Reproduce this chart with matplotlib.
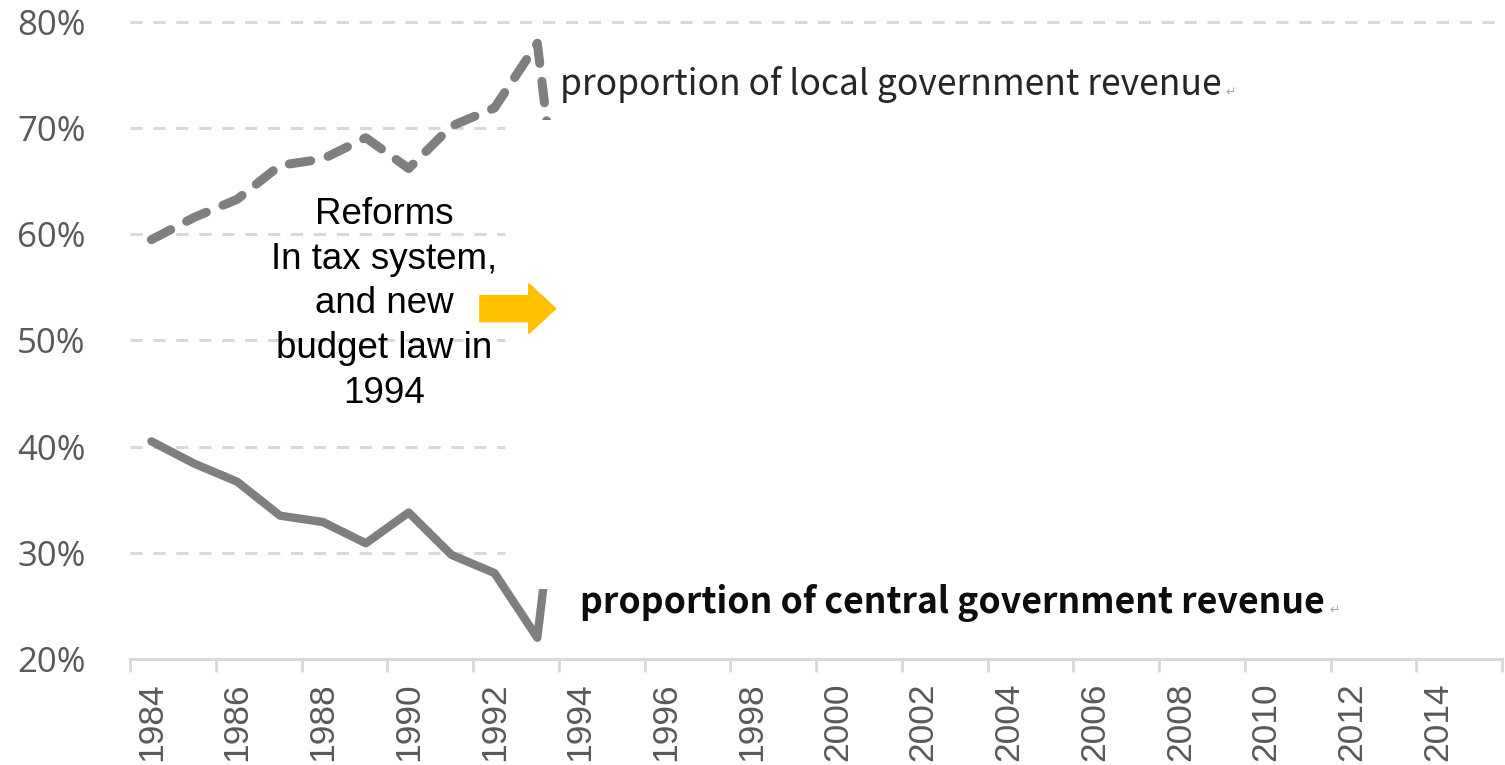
import matplotlib
matplotlib.use("Agg")
import matplotlib.pyplot as plt
from matplotlib.patches import Rectangle, FancyArrow

# share of total fiscal revenue, %
years = list(range(1984, 1995))
local_share = [59.5, 61.6, 63.3, 66.5, 67.1, 69.1, 66.2, 70.2, 71.9, 78.0, 44.3]
central_share = [40.5, 38.4, 36.7, 33.5, 32.9, 30.9, 33.8, 29.8, 28.1, 22.0, 55.7]

tick_years = list(range(1984, 2015, 2))
y_ticks = [20, 30, 40, 50, 60, 70, 80]

GRAY = "#7F7F7F"
GRID = "#D9D9D9"
LABEL = "#595959"

W, H = 1505, 765
fig = plt.figure(figsize=(W / 100, H / 100), dpi=100)
ax = fig.add_axes([130 / W, 106 / H, (1502 - 130) / W, 637 / H])

ax.set_xlim(1983.5, 2015.5)
ax.set_ylim(20, 80)

# dashed guide lines, the upper one runs the full width
for y in y_ticks[1:-1]:
    ax.hlines(y, 1983.5, 1992.25, color=GRID, lw=2.2, linestyle=(0, (4, 3.5)), zorder=1)
ax.hlines(80, 1983.5, 2015.5, color=GRID, lw=2.2, linestyle=(0, (4, 3.5)), zorder=1,
          clip_on=False)

ax.plot(years, local_share, color=GRAY, lw=6.5, linestyle=(0, (2.4, 2.0)),
        dash_capstyle="round", zorder=3)
ax.plot(years, central_share, color=GRAY, lw=6, solid_joinstyle="round",
        solid_capstyle="round", zorder=3)

# blank panel after the reform year
ax.add_patch(Rectangle((1993.05, 26.6), 30, 44.2, facecolor="white",
                       edgecolor="none", zorder=4))

ax.add_patch(FancyArrow(1991.66, 53.0, 1.77, 0, width=2.45, head_width=4.7,
                        head_length=0.63, length_includes_head=True,
                        color="#FFC000", zorder=5))

ax.text(1989.43, 53.45, "Reforms\nIn tax system,\nand new\nbudget law in\n1994",
        ha="center", va="center", fontsize=26.5, family="Liberation Sans",
        color="black", linespacing=1.36, zorder=5)

t_local = ax.text(1993.53, 74.1, "proportion of local government revenue",
                  ha="left", va="center", fontsize=25.5, family="Noto Sans CJK SC",
                  fontweight="light", color="#262626", zorder=5)
t_central = ax.text(1994.0, 25.3, "proportion of central government revenue",
                    ha="left", va="center", fontsize=25.6, family="Noto Sans CJK SC",
                    fontweight="bold", color="#0D0D0D", zorder=5)
for t in (t_local, t_central):
    ax.annotate("\u21b5", xy=(1, 0.3), xycoords=t, xytext=(3, 0),
                textcoords="offset points", ha="left", va="center",
                fontsize=9, color="#A6A6A6", zorder=5)

for side in ("left", "top", "right"):
    ax.spines[side].set_visible(False)
ax.spines["bottom"].set_color(GRID)
ax.spines["bottom"].set_linewidth(2.2)

ax.set_xticks(tick_years)
ax.set_xticklabels([str(y) for y in tick_years])
ax.set_xticks([x - 0.5 for x in range(1984, 2017, 2)], minor=True)
ax.tick_params(axis="x", which="major", length=0, pad=17, rotation=90,
               labelsize=25.5, labelcolor=LABEL)
ax.tick_params(axis="x", which="minor", length=9.5, width=2, color=GRID)
for lbl in ax.get_xticklabels():
    lbl.set_fontfamily("Liberation Sans")

ax.set_yticks(y_ticks)
ax.set_yticklabels([f"{v}%" for v in y_ticks])
ax.tick_params(axis="y", length=0, pad=32, labelsize=25, labelcolor=LABEL)
for lbl in ax.get_yticklabels():
    lbl.set_fontfamily("Open Sans")

fig.savefig("out.png", dpi=100)
